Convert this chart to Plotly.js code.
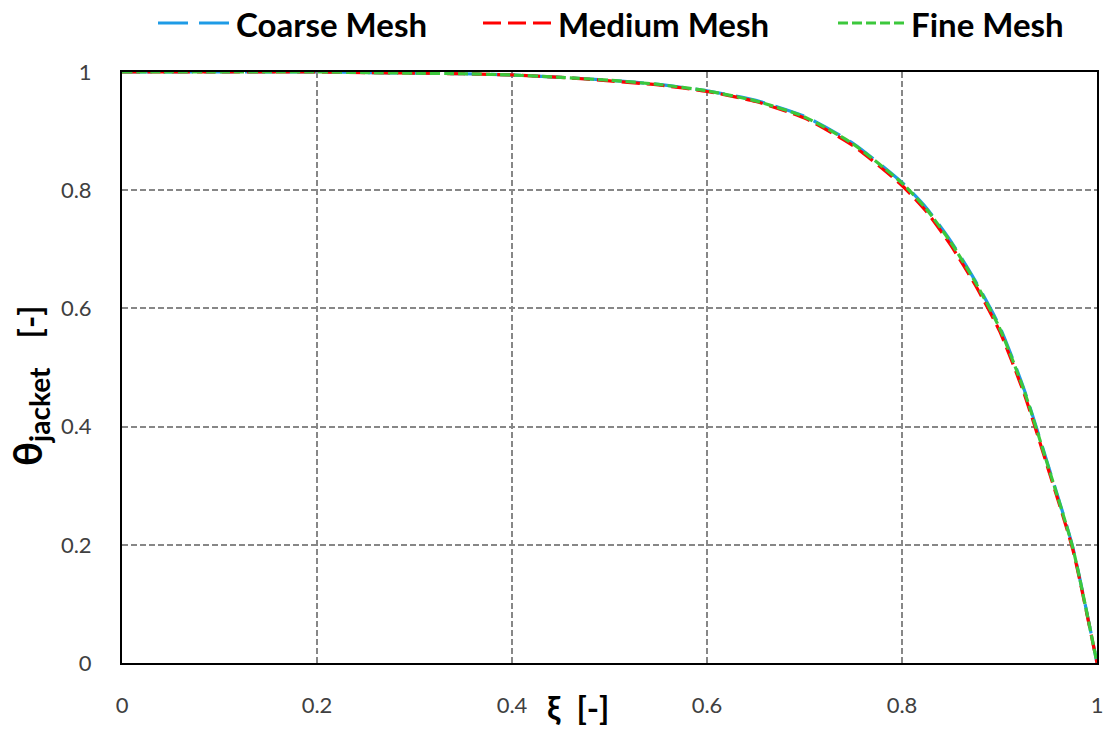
<!DOCTYPE html>
<html>
<head>
<meta charset="utf-8">
<script src="https://cdn.plot.ly/plotly-3.0.1.min.js"></script>
<style>
  html, body { margin: 0; padding: 0; background: #ffffff; }
  #chart { width: 1107px; height: 729px; }
</style>
</head>
<body>
<div id="chart"></div>
<script>
// Dimensionless axial position along the jacket
const xi = [0, 0.05, 0.1, 0.15, 0.2, 0.25, 0.3, 0.35, 0.4, 0.45, 0.5, 0.55, 0.6, 0.65,
            0.7, 0.75, 0.8, 0.825, 0.85, 0.875, 0.9, 0.925, 0.95, 0.975, 1.0];

// Dimensionless jacket temperature for each mesh resolution
const coarseMesh = [1.0, 1.0, 1.0, 1.0, 1.0, 0.999, 0.998, 0.997, 0.995, 0.991, 0.986, 0.979, 0.968, 0.952,
                    0.925, 0.879, 0.813, 0.770, 0.714, 0.647, 0.570, 0.464, 0.334, 0.197, 0.0];
const mediumMesh = [1.0, 1.0, 1.0, 1.0, 1.0, 0.999, 0.998, 0.997, 0.995, 0.991, 0.985, 0.978, 0.967, 0.950,
                    0.922, 0.875, 0.808, 0.764, 0.707, 0.640, 0.562, 0.457, 0.328, 0.193, 0.0];
const fineMesh   = [1.0, 1.0, 1.0, 1.0, 1.0, 0.999, 0.998, 0.997, 0.995, 0.991, 0.986, 0.979, 0.968, 0.951,
                    0.924, 0.878, 0.812, 0.768, 0.712, 0.645, 0.567, 0.462, 0.332, 0.196, 0.0];

const seriesNames = ["Coarse Mesh", "Medium Mesh", "Fine Mesh"];
const tickValues = [0, 0.2, 0.4, 0.6, 0.8, 1];
const tickLabels = ["0", "0.2", "0.4", "0.6", "0.8", "1"];

const styles = [
  { color: "#1e9be6", dash: "30px,11px" },
  { color: "#ff0000", dash: "18px,7px" },
  { color: "#3cc83c", dash: "10px,4px" }
];
const seriesValues = [coarseMesh, mediumMesh, fineMesh];

const traces = seriesValues.map((ys, i) => ({
  type: "scatter",
  mode: "lines",
  name: seriesNames[i],
  x: xi,
  y: ys,
  line: { color: styles[i].color, width: 3.2, dash: styles[i].dash, shape: "spline", smoothing: 0.6 },
  showlegend: false,
  hoverinfo: "x+y+name"
}));

// Hand-built legend row across the top (line sample + bold label)
const W = 1107, H = 729;
const mL = 122, mR = 10, mT = 72, mB = 66;
const pw = W - mL - mR, ph = H - mT - mB;
const px = (p) => (p - mL) / pw;          // pixel x -> paper x
const py = (p) => (H - mB - p) / ph;      // pixel y -> paper y

const legendSamples = [[158, 230], [483, 552], [838, 905]];
const legendShapes = legendSamples.map((s, i) => ({
  type: "line", xref: "paper", yref: "paper",
  x0: px(s[0]), x1: px(s[1]), y0: py(23), y1: py(23),
  line: { color: styles[i].color, width: 3.2, dash: styles[i].dash }
}));
const legendLabels = seriesNames.map((name, i) => ({
  xref: "paper", yref: "paper",
  x: px(legendSamples[i][1] + 4), y: py(24),
  xanchor: "left", yanchor: "middle",
  text: "<b>" + name + "</b>",
  showarrow: false,
  font: { family: "Lato, 'Open Sans', sans-serif", size: 33, color: "#000000" }
}));

const axisTitles = [
  {
    xref: "paper", yref: "paper",
    x: px(578), y: py(707),
    xanchor: "center", yanchor: "middle",
    text: "<b>ξ\u00a0\u00a0[-]</b>",
    showarrow: false,
    font: { family: "Lato, 'Open Sans', sans-serif", size: 33, color: "#000000" }
  },
  {
    xref: "paper", yref: "paper",
    x: px(29), y: py(386),
    xanchor: "center", yanchor: "middle",
    textangle: -90,
    text: "<b>θ<sub>jacket</sub>\u00a0\u00a0\u00a0<span style=\"font-size:33px\">[-]</span></b>",
    showarrow: false,
    font: { family: "Lato, 'Open Sans', sans-serif", size: 40, color: "#000000" }
  }
];

const axisCommon = {
  range: [0, 1],
  tickmode: "array",
  tickvals: tickValues,
  ticktext: tickLabels,
  showgrid: true,
  gridcolor: "#878787",
  gridwidth: 2,
  griddash: "6px,3px",
  zeroline: false,
  showline: true,
  linecolor: "#000000",
  linewidth: 2,
  mirror: true,
  ticks: "",
  tickfont: { family: "Lato, 'Open Sans', sans-serif", size: 22, color: "#404040" },
  fixedrange: true
};

const layout = {
  width: W, height: H,
  margin: { l: mL, r: mR, t: mT, b: mB, pad: 0 },
  paper_bgcolor: "#ffffff",
  plot_bgcolor: "#ffffff",
  xaxis: Object.assign({}, axisCommon, { ticklabelstandoff: 22 }),
  yaxis: Object.assign({}, axisCommon, { ticklabelstandoff: 24 }),
  shapes: legendShapes,
  annotations: legendLabels.concat(axisTitles),
  showlegend: false
};

Plotly.newPlot("chart", traces, layout, { displayModeBar: false, staticPlot: true });
</script>
</body>
</html>
